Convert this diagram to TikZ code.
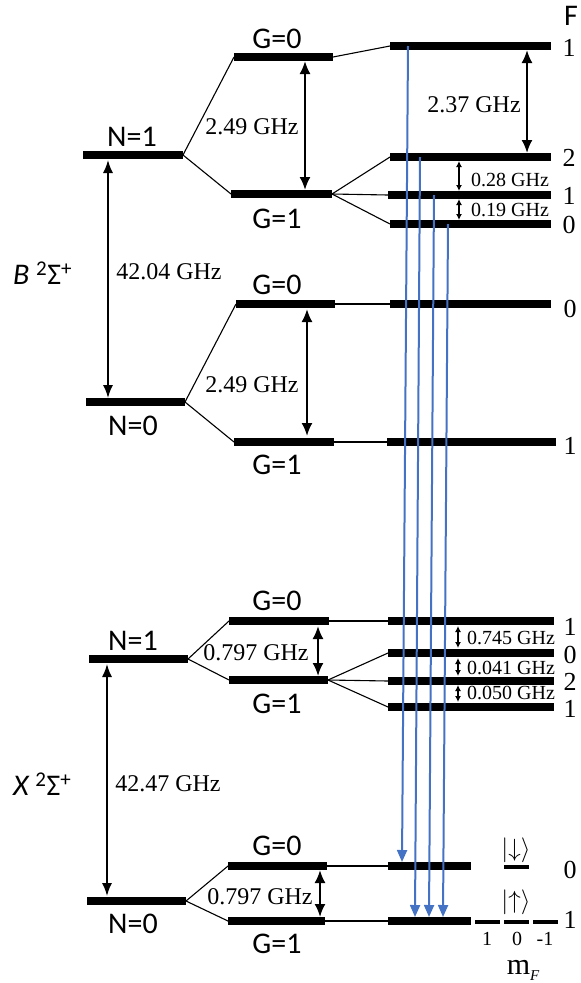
\documentclass[tikz,border=0pt]{standalone}
\usepackage{fontspec}
\setmainfont{Liberation Serif}
\newfontfamily\calfont{Carlito}
\usetikzlibrary{arrows.meta}
\definecolor{myblue}{RGB}{68,114,196}
\begin{document}
\begin{tikzpicture}[x=1pt,y=-1pt,
 lvlbar/.style={line width=7.5pt},
 mfbar/.style={line width=4.5pt},
 thinln/.style={line width=1.1pt},
 dblarr/.style={line width=2pt,{Latex[length=13pt,width=11pt]}-{Latex[length=13pt,width=11pt]}},
 smarr/.style={line width=1.5pt,{Latex[length=6pt,width=6pt]}-{Latex[length=6pt,width=6pt]}},
 bigarr/.style={line width=1.6pt,{Latex[length=13pt,width=10pt]}-{Latex[length=13pt,width=10pt]}},
 bluearr/.style={draw=myblue,line width=2pt,-{Triangle[length=12pt,width=10pt]}},
 slab/.style={font=\calfont\fontsize{30}{32}\selectfont, inner sep=0pt},
 glab/.style={font=\fontsize{24}{26}\selectfont, inner sep=0pt},
 smlab/.style={font=\fontsize{20}{22}\selectfont, inner sep=0pt},
 flab/.style={font=\fontsize{26}{28}\selectfont, inner sep=0pt},
 ketlab/.style={font=\fontsize{27}{29}\selectfont, inner sep=0pt}]
\useasboundingbox (0,0) rectangle (581,983);

% ---------------- B state, N=1 ----------------
\coordinate (BN1a) at (83,155);  \coordinate (BN1b) at (183,155);
\coordinate (BG0a) at (234,57);  \coordinate (BG0b) at (333,57);
\coordinate (BG1a) at (231,194); \coordinate (BG1b) at (332,194);
\coordinate (BFa1a) at (390,46); \coordinate (BFa1b) at (551,46);
\coordinate (BFa2a) at (390,157);\coordinate (BFa2b) at (551,157);
\coordinate (BFb1a) at (388,195);\coordinate (BFb1b) at (551,195);
\coordinate (BFb0a) at (390,224);\coordinate (BFb0b) at (551,224);
\foreach \a/\b in {BN1a/BN1b,BG0a/BG0b,BG1a/BG1b,BFa1a/BFa1b,BFa2a/BFa2b,BFb1a/BFb1b,BFb0a/BFb0b}
  \draw[lvlbar] (\a) -- (\b);
\draw[thinln] (BN1b) -- (BG0a);
\draw[thinln] (BN1b) -- (BG1a);
\draw[thinln] (BG0b) -- (BFa1a);
\draw[thinln] (BG1b) -- (BFa2a);
\draw[thinln] (BG1b) -- (BFb1a);
\draw[thinln] (BG1b) -- (BFb0a);
\node[slab] (lF) at (571,16) {F};
\node[slab] (lBG0) at (277,39) {G=0};
\node[slab] (lBG1) at (277,219) {G=1};
\node[slab] (lBN1) at (132,137) {N=1};
\coordinate (a1t) at (305,61); \coordinate (a1b) at (305,190);
\draw[dblarr] (a1t) -- (a1b);
\node[glab] (l249a) at (252,127) {2.49 GHz};
\coordinate (a2t) at (527,50); \coordinate (a2b) at (527,153);
\draw[dblarr] (a2t) -- (a2b);
\node[glab] (l237) at (474,105) {2.37 GHz};
\coordinate (a3t) at (459,161); \coordinate (a3b) at (459,191);
\draw[smarr] (a3t) -- (a3b);
\node[smlab] (l028) at (510,180) {0.28 GHz};
\coordinate (a4t) at (459,199); \coordinate (a4b) at (459,220);
\draw[smarr] (a4t) -- (a4b);
\node[smlab] (l019) at (510,210) {0.19 GHz};
\node[flab] (f1) at (569,48) {1};
\node[flab] (f2) at (569,158) {2};
\node[flab] (f3) at (569,196) {1};
\node[flab] (f4) at (569,225) {0};

% ---------------- B state, N=0 ----------------
\coordinate (BN0a) at (86,402);  \coordinate (BN0b) at (185,402);
\coordinate (BH0a) at (236,304); \coordinate (BH0b) at (335,304);
\coordinate (BH1a) at (234,442); \coordinate (BH1b) at (334,442);
\coordinate (BGa0a) at (390,304);\coordinate (BGa0b) at (551,304);
\coordinate (BGa1a) at (387,442);\coordinate (BGa1b) at (556,442);
\foreach \a/\b in {BN0a/BN0b,BH0a/BH0b,BH1a/BH1b,BGa0a/BGa0b,BGa1a/BGa1b}
  \draw[lvlbar] (\a) -- (\b);
\draw[thinln] (BN0b) -- (BH0a);
\draw[thinln] (BN0b) -- (BH1a);
\draw[thinln] (BH0b) -- (BGa0a);
\draw[thinln] (BH1b) -- (BGa1a);
\node[slab] (lBH0) at (277,285) {G=0};
\node[slab] (lBH1) at (277,465) {G=1};
\node[slab] (lBN0) at (133,426) {N=0};
\node[slab, anchor=west] (lB) at (13,273) {{\itshape B}\hspace{0.22em}\textsuperscript{2}Σ\textsuperscript{+}};
\coordinate (a5t) at (108,160); \coordinate (a5b) at (108,398);
\draw[bigarr] (a5t) -- (a5b);
\node[glab] (l4204) at (169,272) {42.04 GHz};
\coordinate (a6t) at (307,309); \coordinate (a6b) at (307,436);
\draw[dblarr] (a6t) -- (a6b);
\node[glab] (l249b) at (252,385) {2.49 GHz};
\node[flab] (f5) at (570,309) {0};
\node[flab] (f6) at (570,446) {1};

% ---------------- X state, N=1 ----------------
\coordinate (XN1a) at (89,659);  \coordinate (XN1b) at (188,659);
\coordinate (XG0a) at (229,621); \coordinate (XG0b) at (329,621);
\coordinate (XG1a) at (229,680); \coordinate (XG1b) at (328,680);
\coordinate (XFa1a) at (388,621);\coordinate (XFa1b) at (554,621);
\coordinate (XFb0a) at (388,653);\coordinate (XFb0b) at (554,653);
\coordinate (XFb2a) at (388,681);\coordinate (XFb2b) at (554,681);
\coordinate (XFb1a) at (388,707);\coordinate (XFb1b) at (554,707);
\foreach \a/\b in {XN1a/XN1b,XG0a/XG0b,XG1a/XG1b,XFa1a/XFa1b,XFb0a/XFb0b,XFb2a/XFb2b,XFb1a/XFb1b}
  \draw[lvlbar] (\a) -- (\b);
\draw[thinln] (XN1b) -- (XG0a);
\draw[thinln] (XN1b) -- (XG1a);
\draw[thinln] (XG0b) -- (XFa1a);
\draw[thinln] (XG1b) -- (XFb0a);
\draw[thinln] (XG1b) -- (XFb2a);
\draw[thinln] (XG1b) -- (XFb1a);
\node[slab] (lXG0) at (277,601) {G=0};
\node[slab] (lXG1) at (277,704) {G=1};
\node[slab] (lXN1) at (133,641) {N=1};
\coordinate (a7t) at (318,626); \coordinate (a7b) at (318,676);
\draw[dblarr] (a7t) -- (a7b);
\node[glab] (l797a) at (256,653) {0.797 GHz};
\coordinate (a8t) at (458,626); \coordinate (a8b) at (458,648);
\draw[smarr] (a8t) -- (a8b);
\node[smlab] (l745) at (511,638) {0.745 GHz};
\coordinate (a9t) at (458,658); \coordinate (a9b) at (458,676);
\draw[smarr] (a9t) -- (a9b);
\node[smlab] (l041) at (511,668) {0.041 GHz};
\coordinate (a10t) at (458,685); \coordinate (a10b) at (458,702);
\draw[smarr] (a10t) -- (a10b);
\node[smlab] (l050) at (511,693) {0.050 GHz};
\node[flab] (f7) at (570,627) {1};
\node[flab] (f8) at (570,655) {0};
\node[flab] (f9) at (570,682) {2};
\node[flab] (f10) at (570,709) {1};

% ---------------- X state, N=0 ----------------
\coordinate (XN0a) at (87,901);  \coordinate (XN0b) at (186,901);
\coordinate (XH0a) at (228,866); \coordinate (XH0b) at (327,866);
\coordinate (XH1a) at (228,921); \coordinate (XH1b) at (325,921);
\coordinate (XGa0a) at (388,866);\coordinate (XGa0b) at (471,866);
\coordinate (XGa1a) at (388,921);\coordinate (XGa1b) at (471,921);
\foreach \a/\b in {XN0a/XN0b,XH0a/XH0b,XH1a/XH1b,XGa0a/XGa0b,XGa1a/XGa1b}
  \draw[lvlbar] (\a) -- (\b);
\draw[thinln] (XN0b) -- (XH0a);
\draw[thinln] (XN0b) -- (XH1a);
\draw[thinln] (XH0b) -- (XGa0a);
\draw[thinln] (XH1b) -- (XGa1a);
\coordinate (m1a) at (475,922); \coordinate (m1b) at (500,922);
\coordinate (m2a) at (504,922); \coordinate (m2b) at (529,922);
\coordinate (m3a) at (533,922); \coordinate (m3b) at (558,922);
\coordinate (d0a) at (504,867); \coordinate (d0b) at (529,867);
\foreach \a/\b in {m1a/m1b,m2a/m2b,m3a/m3b,d0a/d0b}
  \draw[mfbar] (\a) -- (\b);
\node[slab] (lXH0) at (277,846) {G=0};
\node[slab] (lXH1) at (277,944) {G=1};
\node[slab] (lXN0) at (133,924) {N=0};
\node[slab, anchor=west] (lX) at (13,784) {{\itshape X}\hspace{0.22em}\textsuperscript{2}Σ\textsuperscript{+}};
\coordinate (a11t) at (107,664); \coordinate (a11b) at (107,896);
\draw[bigarr] (a11t) -- (a11b);
\node[glab] (l4247) at (168,784) {42.47 GHz};
\coordinate (a12t) at (320,870); \coordinate (a12b) at (320,917);
\draw[dblarr] (a12t) -- (a12b);
\node[glab] (l797b) at (260,897) {0.797 GHz};
\node[ketlab] (kdn) at (516,850) {$|{\downarrow}\rangle$};
\node[ketlab] (kup) at (516,902) {$|{\uparrow}\rangle$};
\node[flab] (f11) at (570,870) {0};
\node[flab] (f12) at (570,920) {1};
\node[smlab] (mf1) at (487,939) {1};
\node[smlab] (mf2) at (517,939) {0};
\node[smlab] (mf3) at (545,939) {-1};
\node[font=\fontsize{30}{32}\selectfont, inner sep=0pt, anchor=base] (mF) at (523,974) {m\raisebox{-0.2em}{\fontsize{15}{16}\selectfont\itshape F}};

% ---------------- blue transitions ----------------
\coordinate (s1) at (408,46);  \coordinate (e1) at (402,862);
\coordinate (s2) at (420,157); \coordinate (e2) at (415,917);
\coordinate (s3) at (434,195); \coordinate (e3) at (429,917);
\coordinate (s4) at (448,224); \coordinate (e4) at (443,917);
\draw[bluearr] (s1) -- (e1);
\draw[bluearr] (s2) -- (e2);
\draw[bluearr] (s3) -- (e3);
\draw[bluearr] (s4) -- (e4);
\end{tikzpicture}
\end{document}
